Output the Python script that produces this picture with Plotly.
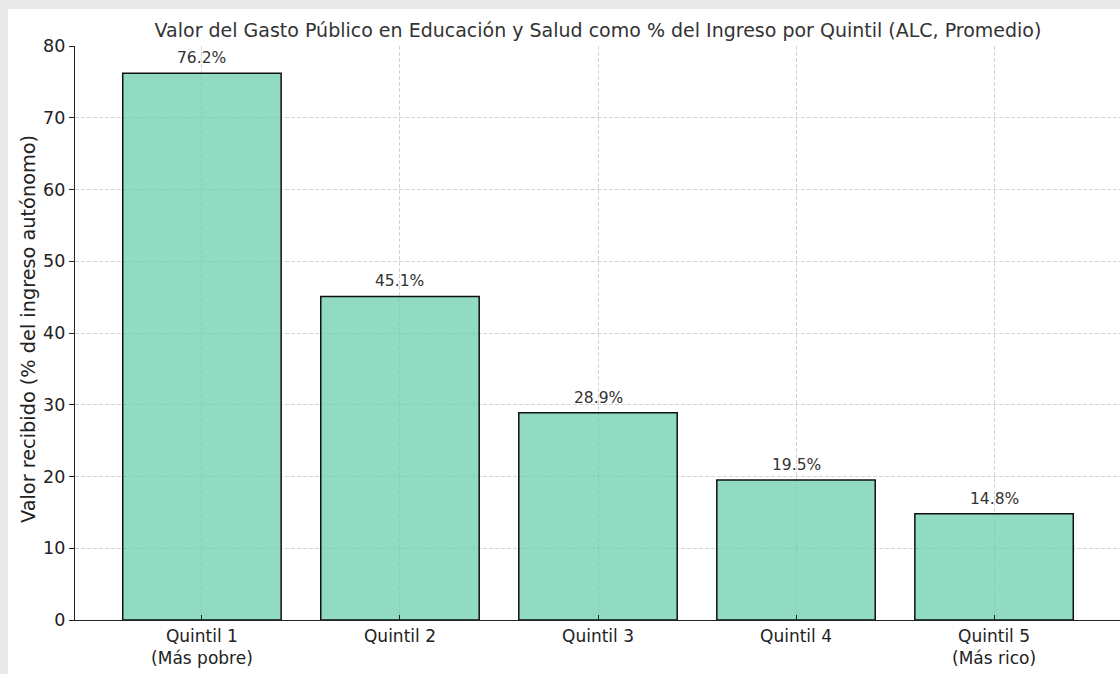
import plotly.graph_objects as go

categories = ["Quintil 1<br>(Más pobre)", "Quintil 2", "Quintil 3", "Quintil 4", "Quintil 5<br>(Más rico)"]
values = [76.2, 45.1, 28.9, 19.5, 14.8]
labels = [f"{v:.1f}%" for v in values]
y_ticks = [0, 10, 20, 30, 40, 50, 60, 70, 80]

W, H = 1120, 674
ML, MR, MT, MB = 75, 0, 46, 54
pw, ph = W - ML - MR, H - MT - MB

fig = go.Figure()
fig.add_trace(go.Bar(
    x=list(range(len(categories))), y=values, width=0.8,
    marker=dict(color="rgba(102,205,170,0.72)", line=dict(color="#111111", width=1.5)),
    hoverinfo="skip",
))
for i, (v, t) in enumerate(zip(values, labels)):
    fig.add_annotation(x=i, y=v, text=t, showarrow=False, yanchor="bottom", yshift=4,
                       font=dict(family="DejaVu Sans", size=15.5, color="#333333"))

# y-axis title as rotated annotation
fig.add_annotation(xref="paper", yref="paper", x=(29 - ML) / pw, y=0.5 + (333 - 329) / ph,
                   text="Valor recibido (% del ingreso autónomo)", textangle=-90, showarrow=False,
                   xanchor="center", yanchor="middle",
                   font=dict(family="DejaVu Sans", size=19.3, color="#222222"))

# white panel over light grey surround
fig.add_shape(type="rect", xref="paper", yref="paper", layer="below",
              x0=(8 - ML) / pw, x1=1.05, y0=-(MB + 10) / ph, y1=1 + (MT - 9) / ph,
              fillcolor="white", line=dict(width=0))

fig.update_layout(
    width=W, height=H,
    margin=dict(l=ML, r=MR, t=MT, b=MB),
    paper_bgcolor="#e9e9e9", plot_bgcolor="white",
    showlegend=False,
    title=dict(text="Valor del Gasto Público en Educación y Salud como % del Ingreso por Quintil (ALC, Promedio)",
               x=598 / W, xanchor="center", y=1 - 30 / H, yanchor="middle",
               font=dict(family="DejaVu Sans", size=19, color="#333333")),
    font=dict(family="DejaVu Sans", color="#222222"),
)
fig.update_xaxes(
    range=[-0.641, 4.636], tickmode="array", tickvals=list(range(len(categories))), ticktext=categories,
    showline=True, linecolor="#222222", linewidth=1.3,
    ticks="inside", ticklen=5, tickcolor="#222222",
    showgrid=True, gridcolor="#d4d4d4", griddash="4px,2px", gridwidth=1,
    tickfont=dict(size=17, color="#222222"), zeroline=False,
)
fig.update_yaxes(
    range=[0, 80], tickmode="array", tickvals=y_ticks,
    showline=True, linecolor="#222222", linewidth=1.3,
    ticks="outside", ticklen=5, tickcolor="#222222",
    showgrid=True, gridcolor="#d4d4d4", griddash="4px,2px", gridwidth=1,
    tickfont=dict(size=17.5, color="#222222"), zeroline=False,
)

fig.write_html("out.html")
